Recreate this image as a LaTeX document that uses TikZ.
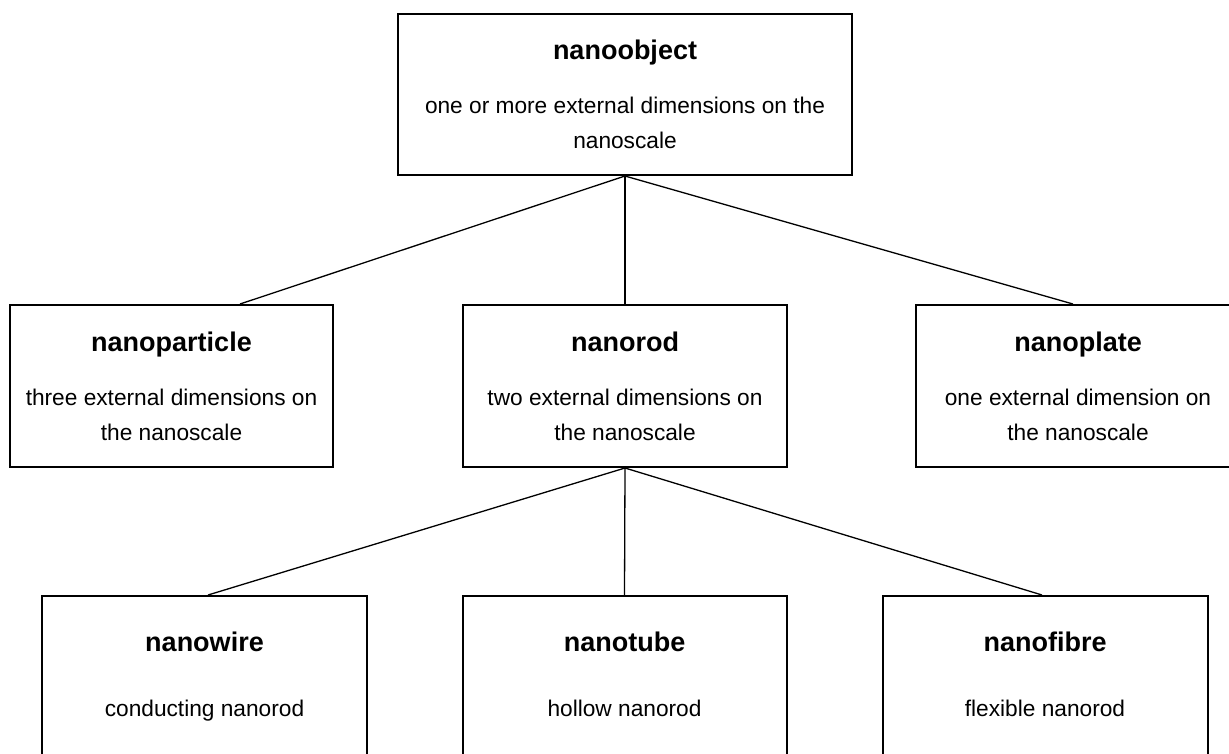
\documentclass[tikz,border=0pt]{standalone}
\usepackage{fontspec}
\setmainfont{Liberation Sans}
\usepackage{tikz}
\usetikzlibrary{positioning,arrows,calc}
\newcommand{\nanotitle}[1]{{\fontsize{27}{35}\selectfont\bfseries #1}}
\tikzset{
    x=1pt,
    y=-1pt,
    block/.style = {
        draw,
        shape=rectangle,
        minimum height=162pt,
        minimum width=324pt,
        line width=2pt,
        align=center,
        inner sep=0pt,
        font=\fontsize{22.7}{35}\selectfont
    },
    wide/.style = {
        block,
        minimum width=454pt,
        minimum height=161pt
    },
    link/.style = {
        draw,
        line width=1.3pt
    },
}

\begin{document}
\begin{tikzpicture}
    \useasboundingbox (0,0) rectangle (1229,753);

    % top level
    \node[wide] (object) at (625,94.5)
        {\nanotitle{nanoobject}\\[19pt]one or more external dimensions on the\\nanoscale};

    % middle row
    \node[block, minimum width=323pt] (particle) at (171.5,386)
        {\nanotitle{nanoparticle}\\[19pt]three external dimensions on\\the nanoscale};
    \node[block] (rod) at (625,386)
        {\nanotitle{nanorod}\\[19pt]two external dimensions on\\the nanoscale};
    \node[block] (plate) at (1078,386)
        {\nanotitle{nanoplate}\\[19pt]one external dimension on\\the nanoscale};

    % bottom row
    \node[block, minimum width=325pt] (wire) at (204.5,677)
        {\nanotitle{nanowire}\\[30pt]conducting nanorod\vphantom{g}};
    \node[block] (tube) at (624.5,677)
        {\nanotitle{nanotube}\\[30pt]hollow nanorod\vphantom{g}};
    \node[block, minimum width=325pt] (fibre) at (1045,677)
        {\nanotitle{nanofibre}\\[30pt]flexible nanorod\vphantom{g}};

    \path[link] (object.south) -- ([xshift=68.5pt]particle.north);
    \path[link] (object.south) -- (rod.north);
    \path[link] (object.south) -- ([xshift=-5pt]plate.north);

    \path[link] (rod.south) -- ([xshift=3.5pt]wire.north);
    \path[link] (rod.south) -- (tube.north);
    \path[link] (rod.south) -- ([xshift=-3pt]fibre.north);
\end{tikzpicture}
\end{document}
